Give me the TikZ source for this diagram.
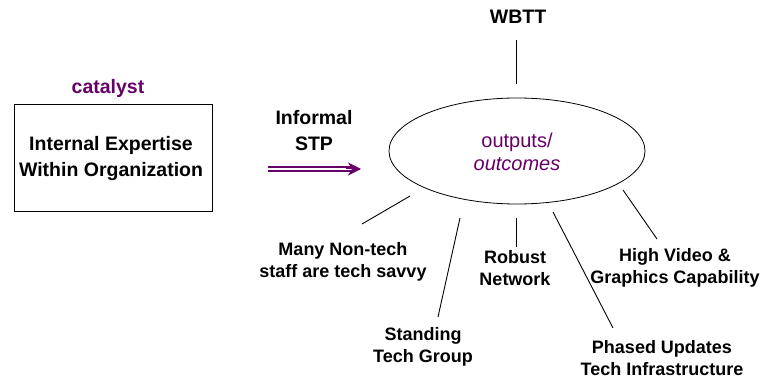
\documentclass[tikz,border=0pt]{standalone}
\usepackage{fontspec}
\setmainfont{Liberation Sans}
\usetikzlibrary{arrows.meta}
\definecolor{plum}{RGB}{102,0,102}
\tikzset{
  lbl/.style={font=\bfseries\fontsize{18}{22}\selectfont, align=center, inner sep=0pt, text=black},
  biglbl/.style={font=\bfseries\fontsize{19.5}{26}\selectfont, align=center, inner sep=0pt, text=black},
  spoke/.style={line width=0.9pt, black},
}
\begin{document}
\begin{tikzpicture}[x=1pt,y=-1pt]
\useasboundingbox (0,0) rectangle (766,379);

% source box and its caption
\node[draw, line width=0.9pt, minimum width=198pt, minimum height=107pt, inner sep=0pt] (box) at (113,157.5) {};
\node[biglbl] (boxtxt) at (111,159) {Internal Expertise\\Within Organization};
\node[biglbl, text=plum] (cat) at (108,88) {catalyst};

% transfer arrow: double shaft plus a solid head
\node[biglbl] (stp) at (314,131) {Informal\\STP};
\coordinate (arrA) at (268,169);
\coordinate (arrB) at (361,169);
\draw[plum, line width=1.7pt, double distance=2pt, shorten >=8pt] (arrA) -- (arrB);
\draw[plum, line width=1pt, shorten <=78pt, -{Stealth[length=13pt,width=13pt,inset=4pt]}] (arrA) -- (arrB);

% central ellipse
\draw[line width=0.8pt] (517,151) ellipse [x radius=128, y radius=53];
\coordinate (ell) at (517,151);
\node[font=\fontsize{20}{23}\selectfont, text=plum, align=center, inner sep=0pt] (out) at (517,152) {outputs/\\\textit{outcomes}};

% top label
\node[biglbl] (wbtt) at (518,17) {WBTT};
\coordinate (w1) at (516,40);
\coordinate (w2) at (516,84);
\draw[spoke] (w1) -- (w2);

% bottom labels
\node[lbl] (many) at (343,262) {Many Non-tech\\staff are tech savvy};
\node[lbl] (stand) at (423,347) {Standing\\Tech Group};
\node[lbl] (robust) at (515,268) {Robust\\Network};
\node[lbl] (phased) at (662,358) {Phased Updates\\Tech Infrastructure};
\node[lbl] (high) at (675,268) {High Video \&\\Graphics Capability};

% spokes towards the labels
\coordinate (s1a) at (410,196); \coordinate (s1b) at (362,224);
\coordinate (s2a) at (460,218); \coordinate (s2b) at (438,317);
\coordinate (s3a) at (516,218); \coordinate (s3b) at (516,247);
\coordinate (s4a) at (553,212); \coordinate (s4b) at (613,328);
\coordinate (s5a) at (623,190); \coordinate (s5b) at (657,239);
\draw[spoke] (s1a) -- (s1b);
\draw[spoke] (s2a) -- (s2b);
\draw[spoke] (s3a) -- (s3b);
\draw[spoke] (s4a) -- (s4b);
\draw[spoke] (s5a) -- (s5b);
\end{tikzpicture}
\end{document}
